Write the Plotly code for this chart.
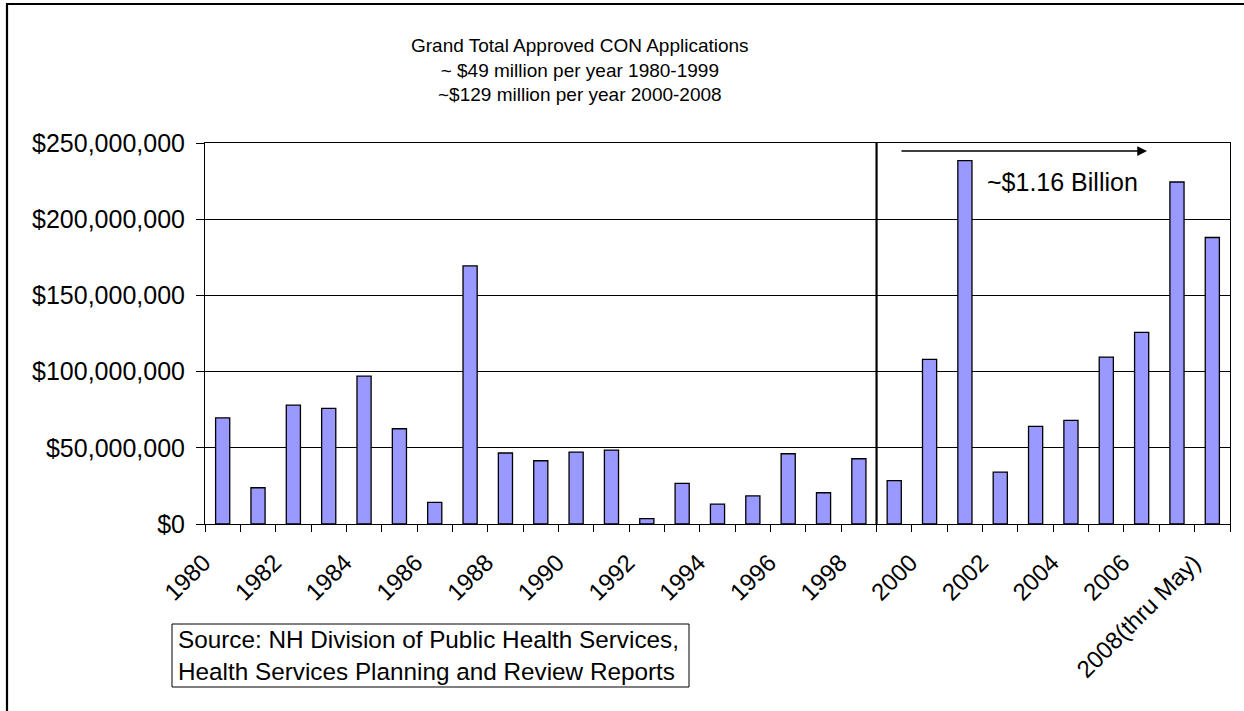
import plotly.graph_objects as go

# Approved CON applications by year, in millions of dollars
years = list(range(1980, 2009))
approved_musd = [
    69.7, 23.8, 78.0, 75.9, 97.0, 62.5, 14.2, 169.4, 46.6, 41.5,
    47.2, 48.5, 3.5, 26.7, 13.1, 18.4, 46.1, 20.5, 42.8, 28.4,
    108.0, 238.5, 34.1, 64.1, 68.0, 109.5, 125.7, 224.4, 188.0,
]
tick_years = list(range(1980, 2009, 2))
tick_labels = [str(y) for y in tick_years[:-1]] + ["2008(thru May)"]

title_lines = [
    "Grand Total Approved CON Applications",
    "~ $49 million per year 1980-1999",
    "~$129 million per year 2000-2008",
]
total_label = "~$1.16 Billion"
source_lines = [
    "Source: NH Division of Public Health Services,",
    "Health Services Planning and Review Reports",
]

FONT = "Arial, Liberation Sans, sans-serif"
W, H = 1244, 711
L, R, T, B = 205, 14, 143, 187
PW, PH = W - L - R, H - T - B


def px_x(x):
    return (x - L) / PW


def px_y(y):
    return (H - B - y) / PH


fig = go.Figure(
    go.Bar(
        x=years,
        y=[v * 1e6 for v in approved_musd],
        marker=dict(color="#9999FF", line=dict(color="black", width=1.3)),
        width=0.4,
        hoverinfo="x+y",
    )
)

fig.update_layout(
    width=W,
    height=H,
    margin=dict(l=L, r=R, t=T, b=B, autoexpand=False),
    paper_bgcolor="white",
    plot_bgcolor="white",
    showlegend=False,
    font=dict(family=FONT, color="black", size=24),
)

fig.update_xaxes(
    range=[1979.5, 2008.5],
    tickmode="array",
    tickvals=tick_years,
    ticktext=tick_labels,
    tickangle=-45,
    ticks="",
    tickfont=dict(size=24),
    ticklabelshift=-19,
    ticklabelstandoff=14,
    showgrid=False,
    showline=True,
    linecolor="black",
    linewidth=1,
    mirror=True,
    minor=dict(tick0=1979.5, dtick=1, ticks="outside", ticklen=7,
               tickcolor="black", tickwidth=1, showgrid=False),
    zeroline=False,
)

fig.update_yaxes(
    range=[0, 250e6],
    tickmode="linear",
    tick0=0,
    dtick=50e6,
    tickprefix="$",
    tickformat=",.0f",
    tickfont=dict(size=25),
    ticks="outside",
    ticklen=8,
    tickcolor="black",
    ticklabelstandoff=6,
    showgrid=True,
    gridcolor="black",
    gridwidth=1,
    showline=True,
    linecolor="black",
    linewidth=1,
    mirror=True,
    zeroline=False,
)

shapes = [
    # divider between the two periods
    dict(type="line", xref="x", yref="paper", x0=1998.5, x1=1998.5, y0=0, y1=1,
         line=dict(color="black", width=2.2)),
    # outer frame: left and top edges
    dict(type="line", xref="paper", yref="paper", x0=px_x(7), x1=px_x(7),
         y0=px_y(4), y1=px_y(H + 2), line=dict(color="black", width=2.2)),
    dict(type="line", xref="paper", yref="paper", x0=px_x(6), x1=px_x(W + 2),
         y0=px_y(4), y1=px_y(4), line=dict(color="black", width=2.2)),
    # source note box
    dict(type="rect", xref="paper", yref="paper", x0=px_x(172), x1=px_x(689),
         y0=px_y(687), y1=px_y(624), line=dict(color="black", width=1),
         fillcolor="white", layer="below"),
]
fig.update_layout(shapes=shapes)

annotations = [
    dict(text="<br>".join(title_lines), xref="paper", yref="paper",
         x=px_x(580), y=px_y(70), xanchor="center", yanchor="middle",
         showarrow=False, font=dict(size=19), align="center"),
    dict(text=total_label, xref="paper", yref="paper",
         x=px_x(1062), y=px_y(182), xanchor="center", yanchor="middle",
         showarrow=False, font=dict(size=25)),
    # arrow spanning the 2000-2008 period
    dict(text="", xref="paper", yref="paper",
         x=px_x(1147), y=px_y(151), ax=-247, ay=0,
         showarrow=True, arrowhead=2, arrowsize=1.3, arrowwidth=1.5,
         arrowcolor="black"),
    dict(text="<br>".join(source_lines), xref="paper", yref="paper",
         x=px_x(176), y=px_y(655.5), xanchor="left", yanchor="middle",
         showarrow=False, align="left", font=dict(size=24.3)),
]
fig.update_layout(annotations=annotations)

fig.write_html("out.html")
